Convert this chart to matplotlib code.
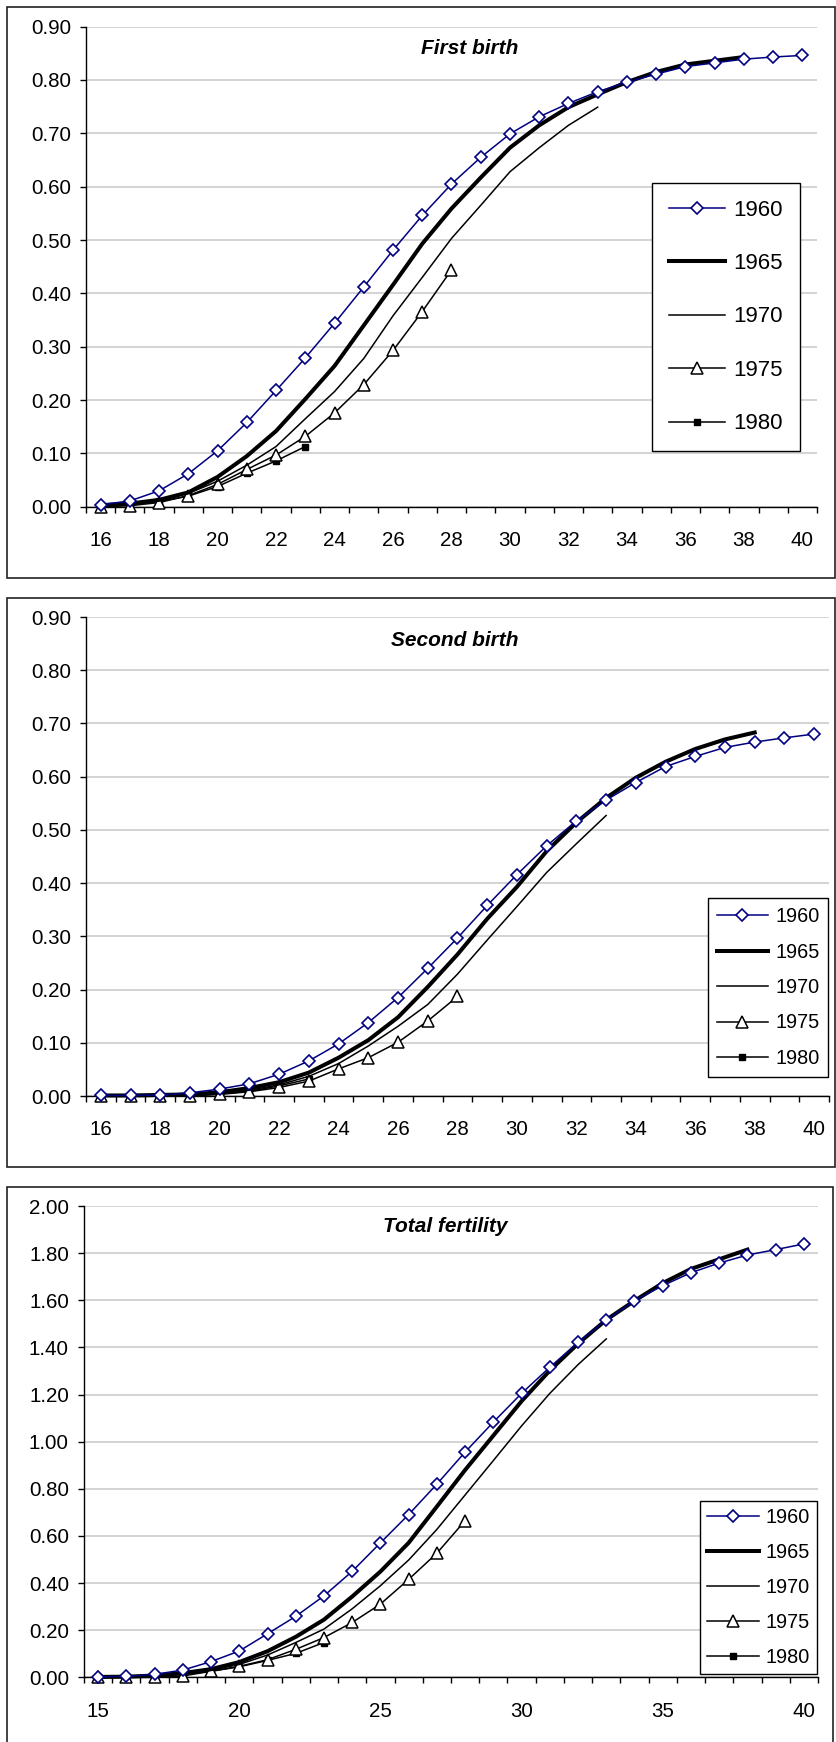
import matplotlib
matplotlib.use("Agg")
import matplotlib.pyplot as plt
from matplotlib.patches import Rectangle
import numpy as np

plt.rcParams['font.family'] = ['Liberation Sans', 'DejaVu Sans']

# ---------------- data ----------------
series_names = ["1960", "1965", "1970", "1975", "1980"]

ages_p12 = list(range(16, 41))
ages_p3 = list(range(15, 41))

# Panel 1: First birth
first_1960 = [0.004, 0.011, 0.030, 0.062, 0.105, 0.158, 0.218, 0.279, 0.344, 0.412, 0.481, 0.546,
              0.605, 0.655, 0.699, 0.731, 0.756, 0.778, 0.796, 0.811, 0.825, 0.832, 0.839, 0.843, 0.846]
first_1965 = [0.003, 0.006, 0.013, 0.027, 0.056, 0.095, 0.142, 0.202, 0.264, 0.340, 0.416, 0.493,
              0.559, 0.617, 0.673, 0.715, 0.749, 0.773, 0.796, 0.815, 0.829, 0.836, 0.843]
first_1970 = [0.002, 0.005, 0.012, 0.025, 0.048, 0.078, 0.113, 0.165, 0.216, 0.278, 0.358, 0.430,
              0.503, 0.565, 0.628, 0.673, 0.715, 0.749]
first_1975 = [0.000, 0.002, 0.008, 0.021, 0.042, 0.070, 0.097, 0.132, 0.176, 0.229, 0.293, 0.366, 0.444]
first_1980 = [0.002, 0.004, 0.010, 0.020, 0.038, 0.063, 0.086, 0.113]

# Panel 2: Second birth
second_1960 = [0.001, 0.001, 0.002, 0.006, 0.013, 0.023, 0.041, 0.066, 0.098, 0.138, 0.185, 0.240,
               0.297, 0.358, 0.416, 0.470, 0.517, 0.556, 0.589, 0.619, 0.638, 0.655, 0.665, 0.673, 0.680]
second_1965 = [0.001, 0.001, 0.002, 0.003, 0.007, 0.015, 0.026, 0.044, 0.072, 0.105, 0.148, 0.205,
               0.266, 0.333, 0.393, 0.460, 0.514, 0.560, 0.598, 0.628, 0.652, 0.670, 0.683]
second_1970 = [0.001, 0.001, 0.001, 0.002, 0.005, 0.011, 0.021, 0.037, 0.061, 0.094, 0.131, 0.172,
               0.229, 0.293, 0.356, 0.420, 0.474, 0.527]
second_1975 = [0.000, 0.000, 0.000, 0.000, 0.003, 0.008, 0.016, 0.028, 0.051, 0.072, 0.101, 0.141, 0.187]
second_1980 = [0.000, 0.000, 0.000, 0.001, 0.004, 0.009, 0.019, 0.032]

# Panel 3: Total fertility
total_1960 = [0.003, 0.004, 0.013, 0.031, 0.067, 0.112, 0.185, 0.259, 0.346, 0.450, 0.571, 0.691, 0.820,
              0.956, 1.083, 1.205, 1.316, 1.421, 1.517, 1.598, 1.662, 1.717, 1.758, 1.792, 1.815, 1.839]
total_1965 = [0.002, 0.003, 0.008, 0.018, 0.035, 0.065, 0.111, 0.172, 0.245, 0.343, 0.449, 0.571, 0.725,
              0.880, 1.026, 1.172, 1.302, 1.416, 1.517, 1.598, 1.673, 1.733, 1.774, 1.815]
total_1970 = [0.001, 0.002, 0.006, 0.014, 0.030, 0.055, 0.095, 0.148, 0.205, 0.291, 0.389, 0.498, 0.628,
              0.774, 0.920, 1.067, 1.205, 1.327, 1.436]
total_1975 = [0.000, 0.000, 0.000, 0.006, 0.026, 0.047, 0.075, 0.119, 0.169, 0.233, 0.311, 0.416, 0.527, 0.665]
total_1980 = [0.002, 0.003, 0.006, 0.013, 0.026, 0.045, 0.072, 0.102, 0.148]

panel_titles = ["First birth", "Second birth", "Total fertility"]
yticks_p12 = [0.0, 0.1, 0.2, 0.3, 0.4, 0.5, 0.6, 0.7, 0.8, 0.9]
yticks_p3 = [0.0, 0.2, 0.4, 0.6, 0.8, 1.0, 1.2, 1.4, 1.6, 1.8, 2.0]
xlabels_p12 = list(range(16, 41, 2))
xlabels_p3 = list(range(15, 41, 5))

# ---------------- styles ----------------
styles = {
    "1960": dict(color="#000080", lw=1.1, marker="D", ms=6.3, mfc="white", mec="#000080", mew=1.2),
    "1965": dict(color="black", lw=2.9, marker=None),
    "1970": dict(color="black", lw=1.1, marker=None),
    "1975": dict(color="black", lw=1.1, marker="^", ms=8.2, mfc="white", mec="black", mew=1.1),
    "1980": dict(color="black", lw=1.1, marker="s", ms=4.6, mfc="black", mec="black", mew=1.0),
}

W, H = 837, 1742
fig = plt.figure(figsize=(W / 100, H / 100), dpi=100)


def rect(x0, x1, ytop, ybot):
    return [x0 / W, 1 - ybot / H, (x1 - x0) / W, (ybot - ytop) / H]


def box(x0, x1, ytop, ybot):
    fig.patches.append(Rectangle((x0 / W, 1 - ybot / H), (x1 - x0) / W, (ybot - ytop) / H,
                                 transform=fig.transFigure, fill=False, lw=1.2, ec="#222222"))


panels = [
    dict(title=panel_titles[0], ages=ages_p12,
         data=[first_1960, first_1965, first_1970, first_1975, first_1980],
         axrect=(86, 817, 26.6, 506.8), boxr=(7, 835, 6.7, 578),
         ylim=(0, 0.9), yticks=yticks_p12, xlim=(15.5, 40.5), xlabels=xlabels_p12,
         title_xy=(470, 49),
         leg=dict(center=(726, 317), fs=16, ls=1.46, hl=2.5, htp=0.4, bp=0.75)),
    dict(title=panel_titles[1], ages=ages_p12,
         data=[second_1960, second_1965, second_1970, second_1975, second_1980],
         axrect=(86, 829, 617, 1096), boxr=(7, 835, 598, 1167),
         ylim=(0, 0.9), yticks=yticks_p12, xlim=(15.5, 40.5), xlabels=xlabels_p12,
         title_xy=(455, 641),
         leg=dict(center=(768, 987.5), fs=14.3, ls=0.83, hl=2.6, htp=0.35, bp=0.43)),
    dict(title=panel_titles[2], ages=ages_p3,
         data=[total_1960, total_1965, total_1970, total_1975, total_1980],
         axrect=(84, 818, 1206, 1677.4), boxr=(7, 833, 1187, 1760),
         ylim=(0, 2.0), yticks=yticks_p3, xlim=(14.5, 40.5), xlabels=xlabels_p3,
         title_xy=(445, 1226),
         leg=dict(center=(758.5, 1587.6), fs=14.3, ls=0.8, hl=2.6, htp=0.35, bp=0.38)),
]

for p in panels:
    box(*p["boxr"])
    ax = fig.add_axes(rect(*p["axrect"]))
    ages = p["ages"]
    handles = {}
    order = [4, 3, 2, 1, 0]
    for i in order:
        name = series_names[i]
        vals = p["data"][i]
        st = styles[name]
        x = ages[:len(vals)]
        ln, = ax.plot(x, vals, label=name, zorder=3 + (5 - i), clip_on=False, **st)
        handles[name] = ln
    ax.set_xlim(*p["xlim"])
    ax.set_ylim(*p["ylim"])
    ax.set_yticks(p["yticks"])
    ax.set_yticklabels([f"{v:.2f}" for v in p["yticks"]])
    ax.set_xticks(p["xlabels"])
    ax.set_xticklabels([str(v) for v in p["xlabels"]])
    lo, hi = p["xlim"]
    ax.set_xticks(np.arange(lo, hi + 0.01, 1.0), minor=True)
    ax.tick_params(axis='x', which='major', length=0, pad=17.5, labelsize=14.8)
    ax.tick_params(axis='x', which='minor', length=4.3, width=1.0, direction='out')
    ax.tick_params(axis='y', which='major', length=4.3, width=1.0, direction='out', pad=6.5,
                   labelsize=14.8)
    ax.yaxis.grid(True, color="#c8c8c8", lw=1.1)
    ax.set_axisbelow(True)
    for s in ["top", "right"]:
        ax.spines[s].set_visible(False)
    for s in ["left", "bottom"]:
        ax.spines[s].set_linewidth(1.0)
        ax.spines[s].set_color("black")
        ax.spines[s].set_zorder(2.5)
    fig.text(p["title_xy"][0] / W, 1 - p["title_xy"][1] / H, p["title"], ha="center", va="center",
             fontsize=15, fontweight="bold", fontstyle="italic")
    lg = p["leg"]
    leg = ax.legend([handles[n] for n in series_names], series_names, loc="center",
                    bbox_to_anchor=(lg["center"][0] / W, 1 - lg["center"][1] / H),
                    bbox_transform=fig.transFigure, fontsize=lg["fs"], labelspacing=lg["ls"],
                    handlelength=lg["hl"], handletextpad=lg["htp"], borderpad=lg["bp"],
                    fancybox=False, framealpha=1, edgecolor="black", numpoints=1)
    leg.get_frame().set_linewidth(1.0)
    leg.set_zorder(20)

fig.savefig("out.png", dpi=100)
